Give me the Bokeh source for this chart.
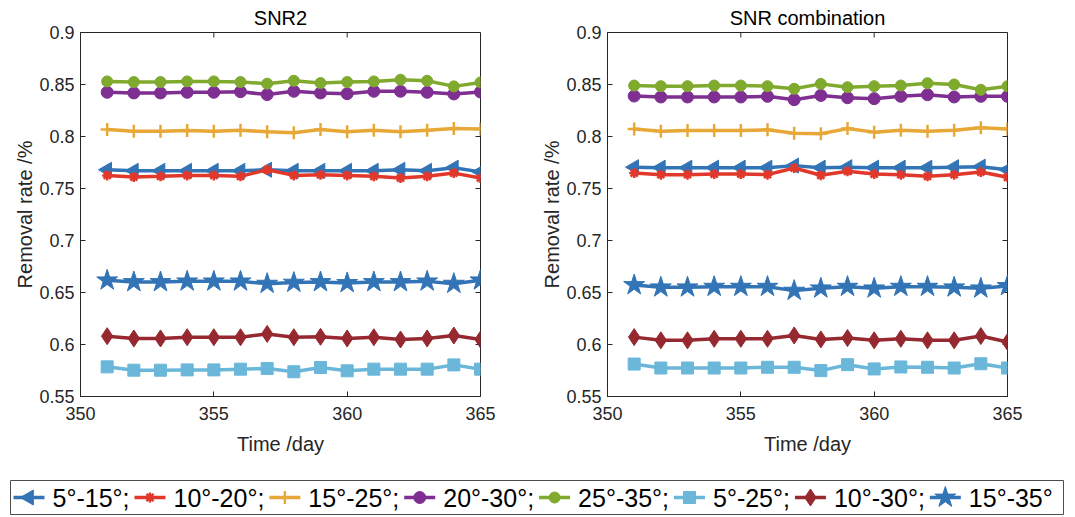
import math
from bokeh.plotting import figure
from bokeh.layouts import column, row
from bokeh.models import FixedTicker, CustomJSTickFormatter, Range1d, ColumnDataSource
from bokeh.core.properties import value
from bokeh.embed import file_html
from bokeh.resources import INLINE

days = [351, 352, 353, 354, 355, 356, 357, 358, 359, 360, 361, 362, 363, 364, 365]
labels = ["5°-15°;", "10°-20°;", "15°-25°;", "20°-30°;", "25°-35°;", "5°-25°;", "10°-30°;", "15°-35°"]

# SNR2 (left panel)
snr2_5_15 = [0.768, 0.767, 0.767, 0.767, 0.767, 0.767, 0.768, 0.767, 0.767, 0.767, 0.767, 0.768, 0.767, 0.770, 0.766]
snr2_10_20 = [0.7626, 0.7610, 0.7617, 0.7626, 0.7626, 0.7617, 0.7680, 0.7626, 0.7632, 0.7626, 0.7617, 0.7601, 0.7617, 0.7648, 0.7601]
snr2_15_25 = [0.8067, 0.8051, 0.8051, 0.8057, 0.8051, 0.8061, 0.8045, 0.8035, 0.8067, 0.8045, 0.8061, 0.8045, 0.8061, 0.8077, 0.8073]
snr2_20_30 = [0.8425, 0.8419, 0.8419, 0.8425, 0.8425, 0.8431, 0.8403, 0.8435, 0.8419, 0.8412, 0.8435, 0.8435, 0.8425, 0.8409, 0.8428]
snr2_25_35 = [0.8530, 0.8524, 0.8524, 0.8530, 0.8530, 0.8524, 0.8508, 0.8536, 0.8514, 0.8524, 0.8530, 0.8546, 0.8536, 0.8482, 0.8520]
snr2_5_25 = [0.5785, 0.5753, 0.5753, 0.5756, 0.5756, 0.5763, 0.5769, 0.5738, 0.5779, 0.5747, 0.5763, 0.5763, 0.5763, 0.5804, 0.5763]
snr2_10_30 = [0.6080, 0.6058, 0.6058, 0.6070, 0.6070, 0.6070, 0.6102, 0.6070, 0.6074, 0.6058, 0.6070, 0.6048, 0.6058, 0.6086, 0.6048]
snr2_15_35 = [0.6617, 0.6601, 0.6601, 0.6607, 0.6607, 0.6607, 0.6585, 0.6595, 0.6601, 0.6592, 0.6601, 0.6601, 0.6607, 0.6585, 0.6617]

# SNR combination (right panel)
comb_5_15 = [0.7705, 0.7700, 0.7700, 0.7700, 0.7700, 0.7700, 0.7720, 0.7700, 0.7705, 0.7700, 0.7700, 0.7700, 0.7705, 0.7710, 0.7680]
comb_10_20 = [0.7649, 0.7633, 0.7633, 0.7639, 0.7639, 0.7633, 0.7697, 0.7627, 0.7665, 0.7639, 0.7633, 0.7617, 0.7633, 0.7658, 0.7608]
comb_15_25 = [0.8073, 0.8051, 0.8057, 0.8057, 0.8057, 0.8064, 0.8032, 0.8026, 0.8076, 0.8042, 0.8061, 0.8051, 0.8061, 0.8083, 0.8073]
comb_20_30 = [0.8389, 0.8380, 0.8380, 0.8380, 0.8380, 0.8386, 0.8354, 0.8395, 0.8373, 0.8364, 0.8386, 0.8402, 0.8380, 0.8386, 0.8386]
comb_25_35 = [0.8490, 0.8484, 0.8484, 0.8490, 0.8490, 0.8484, 0.8459, 0.8506, 0.8474, 0.8484, 0.8490, 0.8512, 0.8500, 0.8449, 0.8484]
comb_5_25 = [0.5812, 0.5774, 0.5774, 0.5774, 0.5774, 0.5781, 0.5781, 0.5749, 0.5806, 0.5765, 0.5784, 0.5781, 0.5774, 0.5815, 0.5774]
comb_10_30 = [0.6071, 0.6040, 0.6040, 0.6055, 0.6055, 0.6055, 0.6087, 0.6049, 0.6062, 0.6040, 0.6055, 0.6040, 0.6040, 0.6081, 0.6024]
comb_15_35 = [0.6572, 0.6550, 0.6550, 0.6556, 0.6556, 0.6556, 0.6518, 0.6540, 0.6556, 0.6540, 0.6556, 0.6556, 0.6550, 0.6540, 0.6563]

x_ticks = [350, 355, 360, 365]
y_ticks = [0.55, 0.6, 0.65, 0.7, 0.75, 0.8, 0.85, 0.9]
X_LIM = (350, 365)
Y_LIM = (0.55, 0.9)

colors = ["#3274B6", "#E2382B", "#E8A838", "#7E2F91", "#7FAA2E", "#6AB7DA", "#962830", "#3274B6"]
STYLES = [
    dict(marker="triangle", size=15, angle=math.pi / 2),
    dict(marker="asterisk", size=10, angle=0.0),
    dict(marker="cross", size=13, angle=0.0),
    dict(marker="circle", size=12, angle=0.0),
    dict(marker="circle", size=11, angle=0.0),
    dict(marker="square", size=12, angle=0.0),
    dict(marker="diamond", size=17, angle=0.0),
    dict(marker="star", size=22, angle=0.0),
]

FONT = "Liberation Sans"
TXT = "#262626"
FRAME_W, FRAME_H = 400, 365
TICK_PX = 5


def add_marker(p, src, i):
    st = STYLES[i]
    c = colors[i]
    lw = 2.5 if st["marker"] in ("asterisk", "cross") else 1
    p.scatter("x", "y", source=src, marker=st["marker"], size=st["size"], angle=st["angle"],
              fill_color=c, line_color=c, line_width=lw)


def glyphs(p, xs, ys, i):
    src = ColumnDataSource(dict(x=xs, y=ys))
    p.line("x", "y", source=src, line_color=colors[i], line_width=3.5)
    add_marker(p, src, i)


def make_panel(title, series, width, left, right):
    p = figure(width=width, height=466, output_backend="svg", toolbar_location=None,
               x_range=Range1d(*X_LIM), y_range=Range1d(*Y_LIM),
               min_border_left=left, min_border_right=right, min_border_top=31, min_border_bottom=70,
               title=title)
    p.title.align = "center"
    p.title.text_font = FONT
    p.title.text_font_size = "20px"
    p.title.text_font_style = "normal"
    p.title.text_color = "#000000"
    p.title.standoff = 8
    p.xgrid.visible = False
    p.ygrid.visible = False
    p.outline_line_color = TXT
    p.outline_line_width = 1
    p.background_fill_color = "white"
    p.border_fill_color = "white"

    yfmt = CustomJSTickFormatter(code="return String(Math.round(tick*100)/100);")
    for ax in p.xaxis:
        ax.ticker = FixedTicker(ticks=x_ticks)
        ax.axis_label = "Time /day"
        ax.major_label_standoff = 10
        ax.axis_label_standoff = 10
    for ax in p.yaxis:
        ax.ticker = FixedTicker(ticks=y_ticks)
        ax.formatter = yfmt
        ax.axis_label = "Removal rate /%"
        ax.major_label_standoff = 6
        ax.axis_label_standoff = 0
    for ax in list(p.xaxis) + list(p.yaxis):
        ax.major_tick_in = TICK_PX
        ax.major_tick_out = 0
        ax.minor_tick_in = 0
        ax.minor_tick_out = 0
        ax.axis_line_color = TXT
        ax.major_tick_line_color = TXT
        ax.major_label_text_font = FONT
        ax.major_label_text_font_size = "18px"
        ax.major_label_text_color = TXT
        ax.axis_label_text_font = FONT
        ax.axis_label_text_font_size = "20px"
        ax.axis_label_text_font_style = "normal"
        ax.axis_label_text_color = TXT

    # mirrored tick marks on the top and right edges of the box
    dy = (Y_LIM[1] - Y_LIM[0]) * TICK_PX / FRAME_H
    dx = (X_LIM[1] - X_LIM[0]) * TICK_PX / FRAME_W
    p.segment(x0=x_ticks, y0=[Y_LIM[1]] * len(x_ticks), x1=x_ticks, y1=[Y_LIM[1] - dy] * len(x_ticks),
              line_color=TXT, line_width=1)
    p.segment(x0=[X_LIM[1]] * len(y_ticks), y0=y_ticks, x1=[X_LIM[1] - dx] * len(y_ticks), y1=y_ticks,
              line_color=TXT, line_width=1)

    for i, ys in enumerate(series):
        glyphs(p, days, ys, i)
    return p


p1 = make_panel("SNR2", [snr2_5_15, snr2_10_20, snr2_15_25, snr2_20_30, snr2_25_35,
                         snr2_5_25, snr2_10_30, snr2_15_35], 526, 80, 46)
p2 = make_panel("SNR combination", [comb_5_15, comb_10_20, comb_15_25, comb_20_30, comb_25_35,
                                    comb_5_25, comb_10_30, comb_15_35], 549, 81, 68)

# ---- legend strip, laid out in pixel units ----
LEG_W, LEG_H = 1075, 51
LEG_FS = 25
CHAR_EM = {"°": 0.4, "-": 0.333, ";": 0.278}


def text_w(s):
    return sum(CHAR_EM.get(ch, 0.556) for ch in s) * LEG_FS


pl = figure(width=LEG_W, height=LEG_H, output_backend="svg", toolbar_location=None,
            x_axis_type=None, y_axis_type=None, x_range=Range1d(0, LEG_W), y_range=Range1d(0, LEG_H),
            min_border=0, outline_line_color=None)
pl.xgrid.visible = False
pl.ygrid.visible = False

box_l, box_r, box_b, box_t = 10, 1063, 3, 37
pl.quad(left=[box_l], right=[box_r], bottom=[box_b], top=[box_t], fill_color="white",
        line_color="#4d4d4d", line_width=1)
yc = (box_b + box_t) / 2
GLYPH_W, STANDOFF, GAP = 31, 8, 5
xpos = box_l + 3
for i, lab in enumerate(labels):
    pl.line(x=[xpos, xpos + GLYPH_W], y=[yc, yc], line_color=colors[i], line_width=3.5)
    add_marker(pl, ColumnDataSource(dict(x=[xpos + GLYPH_W / 2], y=[yc])), i)
    tx = xpos + GLYPH_W + STANDOFF
    pl.text(x=[tx], y=[yc], text=[lab], text_font=value(FONT), text_font_size=f"{LEG_FS}px",
            text_align="left", text_baseline="middle", text_color="#000000")
    xpos = tx + text_w(lab) + GAP

layout = column(row(p1, p2), pl)
open("out.html", "w").write(file_html(layout, INLINE))
